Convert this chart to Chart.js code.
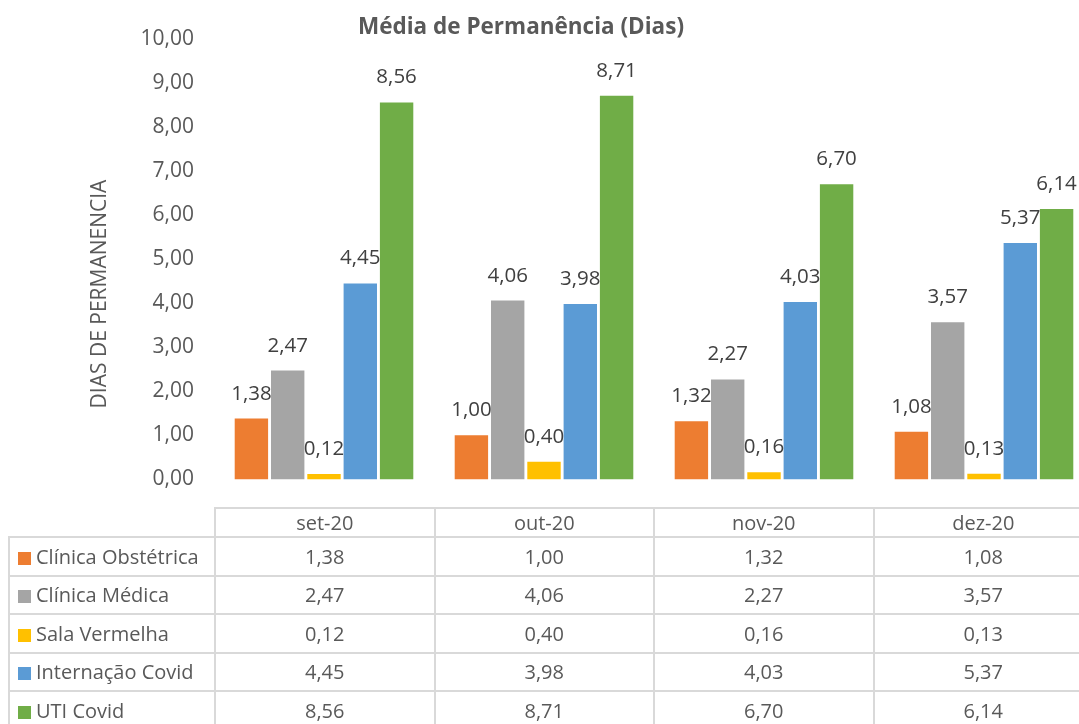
<!DOCTYPE html>
<html>
<head>
<meta charset="utf-8">
<script src="https://cdn.jsdelivr.net/npm/chart.js@4.4.0/dist/chart.umd.min.js"></script>
<style>
  html, body { margin: 0; padding: 0; background: #fff; overflow: hidden; width: 1079px; height: 724px; }
  #wrap { position: relative; width: 1079px; height: 724px; overflow: hidden; }
  #chart { position: absolute; left: 0; top: 0; }
  #tbl {
    position: absolute; left: 8px; top: 507px; width: 1084px;
    border-collapse: collapse; table-layout: fixed;
    font-family: "Open Sans", sans-serif; font-size: 20px; color: #595959;
  }
  #tbl td { border: 2px solid #d9d9d9; padding: 0; text-align: center; white-space: nowrap; overflow: hidden; }
  #tbl td.corner { border: none; }
  #tbl td.name { text-align: left; padding-left: 8px; }
  #tbl tr.head td { height: 27px; }
  #tbl tr.row td { height: 36.5px; }
  .sw { display: inline-block; width: 13px; height: 13px; margin-right: 5px; vertical-align: -1px; }
</style>
</head>
<body>
<div id="wrap">
  <canvas id="chart" width="1100" height="512"></canvas>
  <table id="tbl"></table>
</div>
<script>
// categories and series
const months = ["set-20", "out-20", "nov-20", "dez-20"];
const clinicaObstetrica = [1.38, 1.00, 1.32, 1.08];
const clinicaMedica = [2.47, 4.06, 2.27, 3.57];
const salaVermelha = [0.12, 0.40, 0.16, 0.13];
const internacaoCovid = [4.45, 3.98, 4.03, 5.37];
const utiCovid = [8.56, 8.71, 6.70, 6.14];

const seriesNames = ["Clínica Obstétrica", "Clínica Médica", "Sala Vermelha", "Internação Covid", "UTI Covid"];
const seriesColors = ["#ED7D31", "#A5A5A5", "#FFC000", "#5B9BD5", "#70AD47"];
const seriesData = [clinicaObstetrica, clinicaMedica, salaVermelha, internacaoCovid, utiCovid];

const yMin = 0, yMax = 10, yStep = 1;
const chartTitle = "Média de Permanência (Dias)";
const yTitle = "DIAS DE PERMANENCIA";

const fmt = (v) => v.toFixed(2).replace(".", ",");

// draws values above each bar
const valueLabels = {
  id: "valueLabels",
  afterDatasetsDraw(chart) {
    const ctx = chart.ctx;
    ctx.save();
    ctx.font = '20.5px "Open Sans"';
    ctx.fillStyle = "#404040";
    ctx.textAlign = "center";
    ctx.textBaseline = "alphabetic";
    chart.data.datasets.forEach((ds, i) => {
      chart.getDatasetMeta(i).data.forEach((bar, j) => {
        ctx.fillText(fmt(ds.data[j]), bar.x, bar.y - 19);
      });
    });
    ctx.restore();
  }
};

// chart title + rotated axis title
const titles = {
  id: "titles",
  afterDraw(chart) {
    const ctx = chart.ctx;
    ctx.save();
    ctx.fillStyle = "#595959";
    ctx.textAlign = "center";
    ctx.textBaseline = "alphabetic";
    ctx.font = 'bold 22.5px "Open Sans"';
    ctx.fillText(chartTitle, 521, 34);
    ctx.translate(100, 294);
    ctx.rotate(-Math.PI / 2);
    ctx.textBaseline = "middle";
    ctx.font = '21px "Open Sans"';
    ctx.fillText(yTitle, 0, 0);
    ctx.restore();
  }
};

function buildTable() {
  const tbl = document.getElementById("tbl");
  let html = '<colgroup><col style="width:206px">' +
    months.map(() => '<col style="width:219.5px">').join("") + "</colgroup>";
  html += '<tr class="head"><td class="corner"></td>' + months.map(m => "<td>" + m + "</td>").join("") + "</tr>";
  seriesNames.forEach((name, i) => {
    html += '<tr class="row"><td class="name"><span class="sw" style="background:' + seriesColors[i] + '"></span>' + name + "</td>" +
      seriesData[i].map(v => "<td>" + fmt(v) + "</td>").join("") + "</tr>";
  });
  tbl.innerHTML = html;
}

function draw() {
  buildTable();
  new Chart(document.getElementById("chart"), {
    type: "bar",
    data: {
      labels: months,
      datasets: seriesNames.map((name, i) => ({
        label: name,
        data: seriesData[i],
        backgroundColor: seriesColors[i],
        categoryPercentage: 0.825,
        barPercentage: 0.92
      }))
    },
    options: {
      responsive: false,
      animation: false,
      devicePixelRatio: 1,
      layout: { padding: { left: 0, right: 6, top: 39, bottom: 9 } },
      plugins: { legend: { display: false }, title: { display: false }, tooltip: { enabled: false } },
      scales: {
        x: { display: false },
        y: {
          min: yMin,
          max: yMax,
          border: { display: false },
          grid: { display: false, drawTicks: false },
          ticks: {
            stepSize: yStep,
            padding: 20,
            color: "#595959",
            font: { family: "Open Sans", size: 21 },
            callback: (v) => fmt(v)
          },
          afterFit(scale) { scale.width = 214; }
        }
      }
    },
    plugins: [valueLabels, titles]
  });
}

if (document.fonts && document.fonts.load) {
  Promise.all([
    document.fonts.load('20px "Open Sans"'),
    document.fonts.load('bold 22px "Open Sans"')
  ]).then(draw, draw);
} else {
  draw();
}
</script>
</body>
</html>
